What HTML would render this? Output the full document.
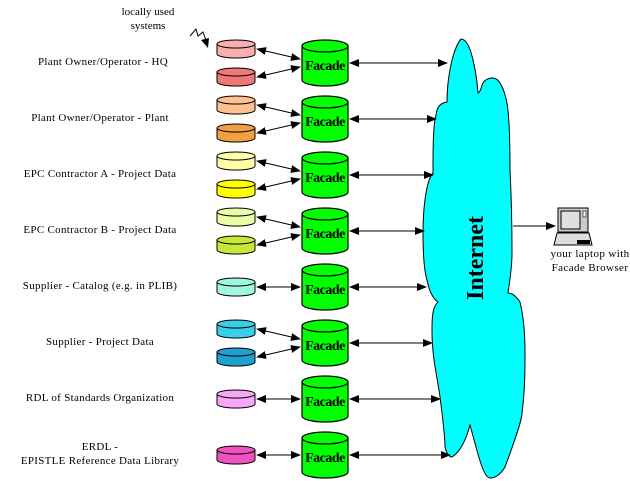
<!DOCTYPE html>
<html><head><style>body{margin:0;background:#fff}svg{display:block}</style></head><body>
<svg width="630" height="481" viewBox="0 0 630 481" xmlns="http://www.w3.org/2000/svg" font-family="Liberation Serif, serif">
<defs>
<marker id="a" markerWidth="10" markerHeight="8" refX="9" refY="4" orient="auto-start-reverse" markerUnits="userSpaceOnUse"><path d="M0,0 L10,4 L0,8 Z" fill="#000"/></marker>
<g id="fac">
<path d="M302,46 L302,80 A23,6 0 0 0 348,80 L348,46 Z" fill="#00ff00" stroke="#000" stroke-width="1.2"/>
<ellipse cx="325" cy="46" rx="23" ry="6" fill="#00ff00" stroke="#000" stroke-width="1.2"/>
<text x="325" y="70" font-size="14" font-weight="bold" text-anchor="middle" letter-spacing="-0.5">Facade</text>
</g>
<g id="two">
<line x1="257" y1="49" x2="300" y2="59" stroke="#000" marker-start="url(#a)" marker-end="url(#a)"/>
<line x1="257" y1="77" x2="300" y2="67" stroke="#000" marker-start="url(#a)" marker-end="url(#a)"/>
</g>
<g id="one">
<line x1="257" y1="63" x2="300" y2="63" stroke="#000" marker-start="url(#a)" marker-end="url(#a)"/>
</g>
</defs>
<!-- cloud -->
<path d="M461,39 C452,50 447,80 447,102 C440,103 437,107 436,115 C433,125 433,150 433,173 C426,180 423,210 423,233 C423,255 424,270 427,280 C430,295 435,300 438,302 C432,307 432,320 432,330 C432,360 438,380 440,397 C443,420 445,440 445,447 C447,455 450,457 452,457 C460,452 466,440 470,425 C477,450 483,478 490,478 C497,478 502,472 505,467 C515,440 522,420 522,413 C525,390 525,370 525,353 C525,325 522,310 520,302 C516,296 512,293 508,293 C510,280 512,265 512,253 C512,220 511,190 510,170 C510,140 509,115 507,103 C504,88 499,78 493,78 C488,78 484,80 482,85 C481,90 479,93 478,93 C477,80 475,68 473,60 C470,47 466,39 461,39 Z" fill="#00ffff" stroke="#000" stroke-width="1"/>
<text transform="translate(483,258) rotate(-90)" font-size="24" font-weight="bold" text-anchor="middle">Internet</text>
<!-- laptop -->
<line x1="513" y1="226" x2="555" y2="226" stroke="#000" marker-end="url(#a)"/>
<rect x="558" y="208" width="30" height="24" fill="#ccc" stroke="#000"/>
<rect x="561" y="211" width="19" height="18" fill="#e0e0e0" stroke="#000"/>
<rect x="583" y="211" width="3" height="6" fill="#fff" stroke="#000" stroke-width="0.6"/>
<polygon points="557,233 589,233 592,245 554,245" fill="#ddd" stroke="#000"/>
<rect x="577" y="240" width="13" height="4" fill="#000"/>
<text x="590" y="257" font-size="11" text-anchor="middle" letter-spacing="0.4">your laptop with</text>
<text x="590" y="271" font-size="11" text-anchor="middle" letter-spacing="0.4">Facade Browser</text>
<!-- top label -->
<text x="148" y="15" font-size="11" text-anchor="middle">locally used</text>
<text x="148" y="29" font-size="11" text-anchor="middle">systems</text>
<polyline points="190,36 196,29 198,36 203,32 207,43" fill="none" stroke="#000"/>
<polygon points="201,40 209,38 208,48" fill="#000"/>

<g font-size="11" text-anchor="middle" stroke-width="1">
<g>
<use href="#fac"/><use href="#two"/>
<line x1="350" y1="63" x2="447" y2="63" stroke="#000" marker-start="url(#a)" marker-end="url(#a)"/>
<path d="M217,44 L217,54 A19,4 0 0 0 255,54 L255,44 Z" fill="#f8b0b0" stroke="#000"/><ellipse cx="236" cy="44" rx="19" ry="4" fill="#f8b0b0" stroke="#000"/>
<path d="M217,72 L217,82 A19,4 0 0 0 255,82 L255,72 Z" fill="#f07878" stroke="#000"/><ellipse cx="236" cy="72" rx="19" ry="4" fill="#f07878" stroke="#000"/>
<text x="103" y="65" letter-spacing="0.3">Plant Owner/Operator - HQ</text>
</g>
<g transform="translate(0,56)">
<use href="#fac"/><use href="#two"/>
<line x1="350" y1="63" x2="436" y2="63" stroke="#000" marker-start="url(#a)" marker-end="url(#a)"/>
<path d="M217,44 L217,54 A19,4 0 0 0 255,54 L255,44 Z" fill="#ffc090" stroke="#000"/><ellipse cx="236" cy="44" rx="19" ry="4" fill="#ffc090" stroke="#000"/>
<path d="M217,72 L217,82 A19,4 0 0 0 255,82 L255,72 Z" fill="#f0a040" stroke="#000"/><ellipse cx="236" cy="72" rx="19" ry="4" fill="#f0a040" stroke="#000"/>
<text x="100" y="65" letter-spacing="0.3">Plant Owner/Operator - Plant</text>
</g>
<g transform="translate(0,112)">
<use href="#fac"/><use href="#two"/>
<line x1="350" y1="63" x2="433" y2="63" stroke="#000" marker-start="url(#a)" marker-end="url(#a)"/>
<path d="M217,44 L217,54 A19,4 0 0 0 255,54 L255,44 Z" fill="#ffffa8" stroke="#000"/><ellipse cx="236" cy="44" rx="19" ry="4" fill="#ffffa8" stroke="#000"/>
<path d="M217,72 L217,82 A19,4 0 0 0 255,82 L255,72 Z" fill="#ffff00" stroke="#000"/><ellipse cx="236" cy="72" rx="19" ry="4" fill="#ffff00" stroke="#000"/>
<text x="100" y="65" letter-spacing="0.3">EPC Contractor A - Project Data</text>
</g>
<g transform="translate(0,168)">
<use href="#fac"/><use href="#two"/>
<line x1="350" y1="63" x2="424" y2="63" stroke="#000" marker-start="url(#a)" marker-end="url(#a)"/>
<path d="M217,44 L217,54 A19,4 0 0 0 255,54 L255,44 Z" fill="#e8ffa8" stroke="#000"/><ellipse cx="236" cy="44" rx="19" ry="4" fill="#e8ffa8" stroke="#000"/>
<path d="M217,72 L217,82 A19,4 0 0 0 255,82 L255,72 Z" fill="#c8e838" stroke="#000"/><ellipse cx="236" cy="72" rx="19" ry="4" fill="#c8e838" stroke="#000"/>
<text x="100" y="65" letter-spacing="0.3">EPC Contractor B - Project Data</text>
</g>
<g transform="translate(0,224)">
<use href="#fac"/><use href="#one"/>
<line x1="350" y1="63" x2="426" y2="63" stroke="#000" marker-start="url(#a)" marker-end="url(#a)"/>
<path d="M217,58 L217,68 A19,4 0 0 0 255,68 L255,58 Z" fill="#a0f8e0" stroke="#000"/><ellipse cx="236" cy="58" rx="19" ry="4" fill="#a0f8e0" stroke="#000"/>
<text x="100" y="65" letter-spacing="0.3">Supplier - Catalog (e.g. in PLIB)</text>
</g>
<g transform="translate(0,280)">
<use href="#fac"/><use href="#two"/>
<line x1="350" y1="63" x2="432" y2="63" stroke="#000" marker-start="url(#a)" marker-end="url(#a)"/>
<path d="M217,44 L217,54 A19,4 0 0 0 255,54 L255,44 Z" fill="#38d0e8" stroke="#000"/><ellipse cx="236" cy="44" rx="19" ry="4" fill="#38d0e8" stroke="#000"/>
<path d="M217,72 L217,82 A19,4 0 0 0 255,82 L255,72 Z" fill="#20a0d0" stroke="#000"/><ellipse cx="236" cy="72" rx="19" ry="4" fill="#20a0d0" stroke="#000"/>
<text x="100" y="65" letter-spacing="0.3">Supplier - Project Data</text>
</g>
<g transform="translate(0,336)">
<use href="#fac"/><use href="#one"/>
<line x1="350" y1="63" x2="440" y2="63" stroke="#000" marker-start="url(#a)" marker-end="url(#a)"/>
<path d="M217,58 L217,68 A19,4 0 0 0 255,68 L255,58 Z" fill="#f8a8f8" stroke="#000"/><ellipse cx="236" cy="58" rx="19" ry="4" fill="#f8a8f8" stroke="#000"/>
<text x="100" y="65" letter-spacing="0.3">RDL of Standards Organization</text>
</g>
<g transform="translate(0,392)">
<use href="#fac"/><use href="#one"/>
<line x1="350" y1="63" x2="450" y2="63" stroke="#000" marker-start="url(#a)" marker-end="url(#a)"/>
<path d="M217,58 L217,68 A19,4 0 0 0 255,68 L255,58 Z" fill="#f050c0" stroke="#000"/><ellipse cx="236" cy="58" rx="19" ry="4" fill="#f050c0" stroke="#000"/>
<text x="100" y="58" letter-spacing="0.3">ERDL -</text>
<text x="100" y="72" letter-spacing="0.3">EPISTLE Reference Data Library</text>
</g>
</g>
</svg>
</body></html>
